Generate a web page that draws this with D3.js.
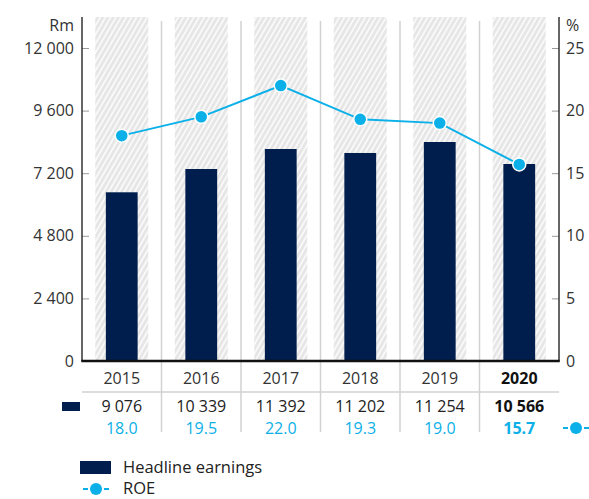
<!DOCTYPE html>
<html>
<head>
<meta charset="utf-8">
<script src="https://cdn.jsdelivr.net/npm/d3@7/dist/d3.min.js"></script>
<style>
  body { margin: 0; background: #fff; }
  svg { display: block; font-family: "Open Sans", Lato, sans-serif; }
</style>
</head>
<body>
<svg id="chart" width="589" height="499"></svg>
<script>
// data
var years = ["2015", "2016", "2017", "2018", "2019", "2020"];
var barValues = [6468, 7361, 8128, 7975, 8396, 7553];
// printed headline earnings (Rm)
var earnings = [9076, 10339, 11392, 11202, 11254, 10566];
var roe = [18.0, 19.5, 22.0, 19.3, 19.0, 15.7];
var leftTicks = [0, 2400, 4800, 7200, 9600, 12000];
var rightTicks = [0, 5, 10, 15, 20, 25];

var navy = "#001e4d", cyan = "#0bb0e8";
var svg = d3.select("svg#chart");
var left = 82, right = 559, plotTop = 17, bottom = 361;

var loc = d3.formatLocale({decimal: ".", thousands: " ", grouping: [3], currency: ["", ""]});
var fmt = loc.format(",d");

var x = d3.scaleBand().domain(years).range([left, right]);
var y = d3.scaleLinear().domain([0, 12000]).range([bottom, 48]);
var y2 = d3.scaleLinear().domain([0, 25]).range([bottom, 48]);

// hatch pattern
var pat = svg.append("defs").append("pattern")
	.attr("id", "hatch")
	.attr("patternUnits", "userSpaceOnUse")
	.attr("width", 4.5).attr("height", 4.5)
	.attr("patternTransform", "rotate(30)");
pat.append("rect").attr("width", 4.5).attr("height", 4.5).attr("fill", "#e6e6e6");
pat.append("line").attr("x1", 1).attr("x2", 1).attr("y1", 0).attr("y2", 4.5)
	.attr("stroke", "#fff").attr("stroke-width", 1.4);

var hw = x.bandwidth() * 0.667;
svg.append("g").selectAll("rect")
	.data(years).enter().append("rect")
	.attr("x", function(d){ return x(d) + (x.bandwidth() - hw) / 2; })
	.attr("y", plotTop)
	.attr("width", hw)
	.attr("height", bottom - plotTop)
	.attr("fill", "url(#hatch)");

// separators
svg.append("g").selectAll("line")
	.data(years.slice(1)).enter().append("line")
	.attr("x1", function(d){ return x(d); })
	.attr("x2", function(d){ return x(d); })
	.attr("y1", 21).attr("y2", 432)
	.attr("stroke", "#d2d2d2").attr("stroke-width", 1.5);

// table horizontal rule
svg.append("line")
	.attr("x1", left).attr("x2", right).attr("y1", 392).attr("y2", 392)
	.attr("stroke", "#d2d2d2").attr("stroke-width", 1.5);

// bars
var bw = x.bandwidth() * 0.4;
svg.append("g").selectAll("rect")
	.data(barValues).enter().append("rect")
	.attr("x", function(d, i){ return x(years[i]) + (x.bandwidth() - bw) / 2; })
	.attr("y", function(d){ return y(d); })
	.attr("width", bw)
	.attr("height", function(d){ return bottom - y(d); })
	.attr("fill", navy);

// axes
var gl = svg.append("g").attr("transform", "translate(" + left + ",0)")
	.call(d3.axisRight(y).tickValues(leftTicks).tickSize(7).tickFormat(""));
var gr = svg.append("g").attr("transform", "translate(" + right + ",0)")
	.call(d3.axisLeft(y2).tickValues(rightTicks).tickSize(7).tickFormat(""));
[gl, gr].forEach(function(g){
	g.select(".domain").remove();
	g.selectAll(".tick line").attr("stroke", "#999").attr("stroke-width", 1);
});
svg.append("line").attr("x1", left).attr("x2", left).attr("y1", plotTop).attr("y2", bottom)
	.attr("stroke", "#333").attr("stroke-width", 1.5);
svg.append("line").attr("x1", right).attr("x2", right).attr("y1", plotTop).attr("y2", bottom)
	.attr("stroke", "#333").attr("stroke-width", 1.5);
svg.append("line").attr("x1", left - 0.75).attr("x2", right + 0.75).attr("y1", bottom).attr("y2", bottom)
	.attr("stroke", "#111").attr("stroke-width", 2.5);

svg.append("g").selectAll("text")
	.data(leftTicks).enter().append("text")
	.attr("x", 74).attr("y", function(d){ return y(d); })
	.attr("dy", "0.35em").attr("text-anchor", "end")
	.style("font-size", "16px").style("fill", "#333")
	.text(function(d){ return fmt(d); });
svg.append("text").attr("x", 74).attr("y", 25).attr("dy", "0.35em")
	.attr("text-anchor", "end").style("font-size", "16px").style("fill", "#333").text("Rm");

svg.append("g").selectAll("text")
	.data(rightTicks).enter().append("text")
	.attr("x", 566).attr("y", function(d){ return y2(d); })
	.attr("dy", "0.35em")
	.style("font-size", "16px").style("fill", "#333")
	.text(function(d){ return d; });
svg.append("text").attr("x", 566).attr("y", 25).attr("dy", "0.35em")
	.style("font-size", "16px").style("fill", "#333").text("%");

// ROE line
var line = d3.line()
	.x(function(d, i){ return x(years[i]) + x.bandwidth() / 2; })
	.y(function(d){ return y2(d); });
svg.append("path").datum(roe)
	.attr("d", line).attr("fill", "none")
	.attr("stroke", cyan).attr("stroke-width", 2);
svg.append("g").selectAll("circle")
	.data(roe).enter().append("circle")
	.attr("cx", function(d, i){ return x(years[i]) + x.bandwidth() / 2; })
	.attr("cy", function(d){ return y2(d); })
	.attr("r", 6.5)
	.attr("fill", cyan).attr("stroke", "#fff").attr("stroke-width", 1.5);

// table rows
var last = years.length - 1;
function row(data, yy, color, lastColor, f) {
	svg.append("g").selectAll("text")
		.data(data).enter().append("text")
		.attr("x", function(d, i){ return x(years[i]) + x.bandwidth() / 2; })
		.attr("y", yy).attr("dy", "0.35em")
		.attr("text-anchor", "middle")
		.style("font-size", "16px")
		.style("font-weight", function(d, i){ return i == last ? "bold" : "normal"; })
		.style("fill", function(d, i){ return i == last ? lastColor : color; })
		.text(f);
}
row(years, 378, "#333", "#111", function(d){ return d; });
row(earnings, 406, "#222", "#111", function(d){ return fmt(d); });
row(roe, 428, cyan, cyan, function(d){ return d.toFixed(1); });

// table keys
svg.append("rect").attr("x", 62).attr("y", 402).attr("width", 18).attr("height", 9).attr("fill", navy);
function roeKey(cx, cy) {
	var g = svg.append("g");
	g.append("line").attr("x1", cx - 13).attr("x2", cx - 8).attr("y1", cy).attr("y2", cy)
		.attr("stroke", cyan).attr("stroke-width", 2);
	g.append("line").attr("x1", cx + 8).attr("x2", cx + 13).attr("y1", cy).attr("y2", cy)
		.attr("stroke", cyan).attr("stroke-width", 2);
	g.append("circle").attr("cx", cx).attr("cy", cy).attr("r", 6).attr("fill", cyan);
}
roeKey(576, 428);

// legend
svg.append("rect").attr("x", 80).attr("y", 461).attr("width", 31).attr("height", 13).attr("fill", navy);
svg.append("text").attr("x", 123).attr("y", 467.5).attr("dy", "0.35em")
	.style("font-size", "16.5px").style("fill", "#222").text("Headline earnings");
roeKey(96, 489);
svg.append("text").attr("x", 123).attr("y", 488.5).attr("dy", "0.35em")
	.style("font-size", "16.5px").style("fill", "#222").text("ROE");
</script>
</body>
</html>
